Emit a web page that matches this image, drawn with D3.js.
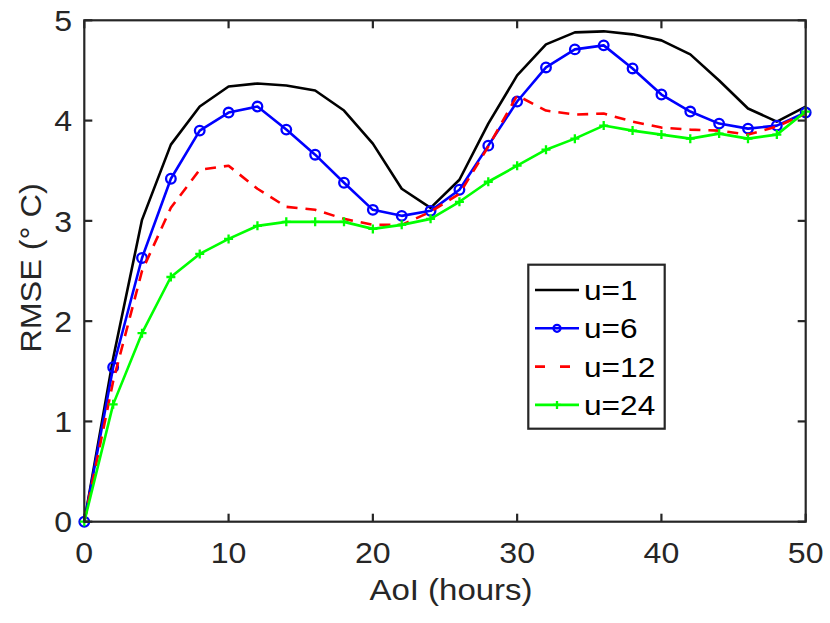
<!DOCTYPE html>
<html><head><meta charset="utf-8">
<script src="https://cdn.jsdelivr.net/npm/d3@7"></script>
<style>body{margin:0;background:#fff}svg{display:block}text{font-family:"Liberation Sans",Arial,sans-serif;fill:#262626}</style>
</head><body><svg id="c" width="830" height="623"></svg>
<script>
const hours = [0,2,4,6,8,10,12,14,16,18,20,22,24,26,28,30,32,34,36,38,40,42,44,46,48,50];
const u1  = [0,1.63,3.01,3.76,4.14,4.34,4.37,4.35,4.30,4.10,3.77,3.32,3.13,3.41,3.97,4.45,4.76,4.88,4.89,4.86,4.80,4.66,4.40,4.12,3.99,4.14];
const u6  = [0,1.54,2.63,3.42,3.90,4.08,4.14,3.91,3.66,3.38,3.11,3.05,3.10,3.31,3.75,4.19,4.53,4.71,4.75,4.52,4.26,4.09,3.97,3.92,3.95,4.08];
const u12 = [0,1.40,2.50,3.13,3.51,3.55,3.32,3.14,3.11,3.02,2.96,2.96,3.09,3.27,3.74,4.25,4.10,4.06,4.07,3.99,3.93,3.91,3.90,3.86,3.94,4.07];
const u24 = [0,1.17,1.88,2.44,2.67,2.82,2.95,2.99,2.99,2.99,2.92,2.96,3.02,3.19,3.39,3.55,3.71,3.82,3.95,3.90,3.86,3.82,3.87,3.82,3.86,4.09];
const seriesNames = ["u=1","u=6","u=12","u=24"];
const xTicks = [0,10,20,30,40,50];
const yTicks = [0,1,2,3,4,5];

const series = [
  {name:seriesNames[0], vals:u1,  color:"#000000", dash:null, marker:null},
  {name:seriesNames[1], vals:u6,  color:"#0000ff", dash:null, marker:"o"},
  {name:seriesNames[2], vals:u12, color:"#ff0000", dash:"11,8", marker:null},
  {name:seriesNames[3], vals:u24, color:"#00ff00", dash:null, marker:"+"}
];

const svg = d3.select("#c");
const L=84.3, R=805.7, T=20.3, B=521.7;
const x = d3.scaleLinear().domain([0,50]).range([L,R]);
const y = d3.scaleLinear().domain([0,5]).range([B,T]);
const axisCol = "#262626";

function label(g, tx, ty, sx, anchor, size, str, rot) {
  return g.append("text")
    .attr("transform", `translate(${tx},${ty})` + (rot ? ` rotate(${rot})` : "") + ` scale(${sx},1)`)
    .attr("text-anchor", anchor).attr("font-size", size).text(str);
}

const plot = svg.append("g");
const line = d3.line().x((d,i)=>x(hours[i])).y(d=>y(d));
series.forEach(s=>{
  plot.append("path").attr("d", line(s.vals)).attr("fill","none")
    .attr("stroke", s.color).attr("stroke-width", 2.6)
    .attr("stroke-linejoin","round")
    .attr("stroke-dasharray", s.dash);
  if (s.marker==="o") {
    plot.selectAll(null).data(s.vals).enter().append("circle")
      .attr("cx",(d,i)=>x(hours[i])).attr("cy",d=>y(d)).attr("r",4.8)
      .attr("fill","none").attr("stroke",s.color).attr("stroke-width",2.3);
  } else if (s.marker==="+") {
    const g = plot.append("g");
    s.vals.forEach((d,i)=>{
      const cx=x(hours[i]), cy=y(d);
      g.append("path").attr("d",`M${cx-4.5},${cy}H${cx+4.5}M${cx},${cy-4.5}V${cy+4.5}`)
        .attr("stroke",s.color).attr("stroke-width",2.3);
    });
  }
});

// axes box
const ax = svg.append("g");
ax.append("rect").attr("x",L).attr("y",T).attr("width",R-L).attr("height",B-T)
  .attr("fill","none").attr("stroke",axisCol).attr("stroke-width",2.2);
const tl = 8;
xTicks.forEach(t=>{
  ax.append("line").attr("x1",x(t)).attr("x2",x(t)).attr("y1",B).attr("y2",B-tl).attr("stroke",axisCol).attr("stroke-width",2.2);
  ax.append("line").attr("x1",x(t)).attr("x2",x(t)).attr("y1",T).attr("y2",T+tl).attr("stroke",axisCol).attr("stroke-width",2.2);
  label(ax, x(t), 563, 1.07, "middle", 30, t);
});
yTicks.forEach(t=>{
  ax.append("line").attr("x1",L).attr("x2",L+tl).attr("y1",y(t)).attr("y2",y(t)).attr("stroke",axisCol).attr("stroke-width",2.2);
  ax.append("line").attr("x1",R).attr("x2",R-tl).attr("y1",y(t)).attr("y2",y(t)).attr("stroke",axisCol).attr("stroke-width",2.2);
  label(ax, 72, y(t)+10.7, 1.07, "end", 30, t);
});
label(ax, 451, 600, 1.1, "middle", 30, "AoI (hours)");
label(ax, 41, 268, 1.08, "middle", 30, "RMSE (° C)", -90);

// legend
const lg = svg.append("g");
lg.append("rect").attr("x",528.3).attr("y",264.7).attr("width",136.4).attr("height",164)
  .attr("fill","#fff").attr("stroke",axisCol).attr("stroke-width",2.2);
series.forEach((s,i)=>{
  const cy = 290 + i*38.3;
  lg.append("line").attr("x1",535).attr("x2",579).attr("y1",cy).attr("y2",cy)
    .attr("stroke",s.color).attr("stroke-width",2.6).attr("stroke-dasharray", s.dash ? "10,15" : null);
  if (s.marker==="o") lg.append("circle").attr("cx",557).attr("cy",cy).attr("r",3.5).attr("fill","none").attr("stroke",s.color).attr("stroke-width",2.3);
  if (s.marker==="+") lg.append("path").attr("d",`M553,${cy}H561M557,${cy-4}V${cy+4}`).attr("stroke",s.color).attr("stroke-width",2.3);
  label(lg, 584, cy+10, 1.13, "start", 28, s.name).style("fill","#000");
});
</script></body></html>
